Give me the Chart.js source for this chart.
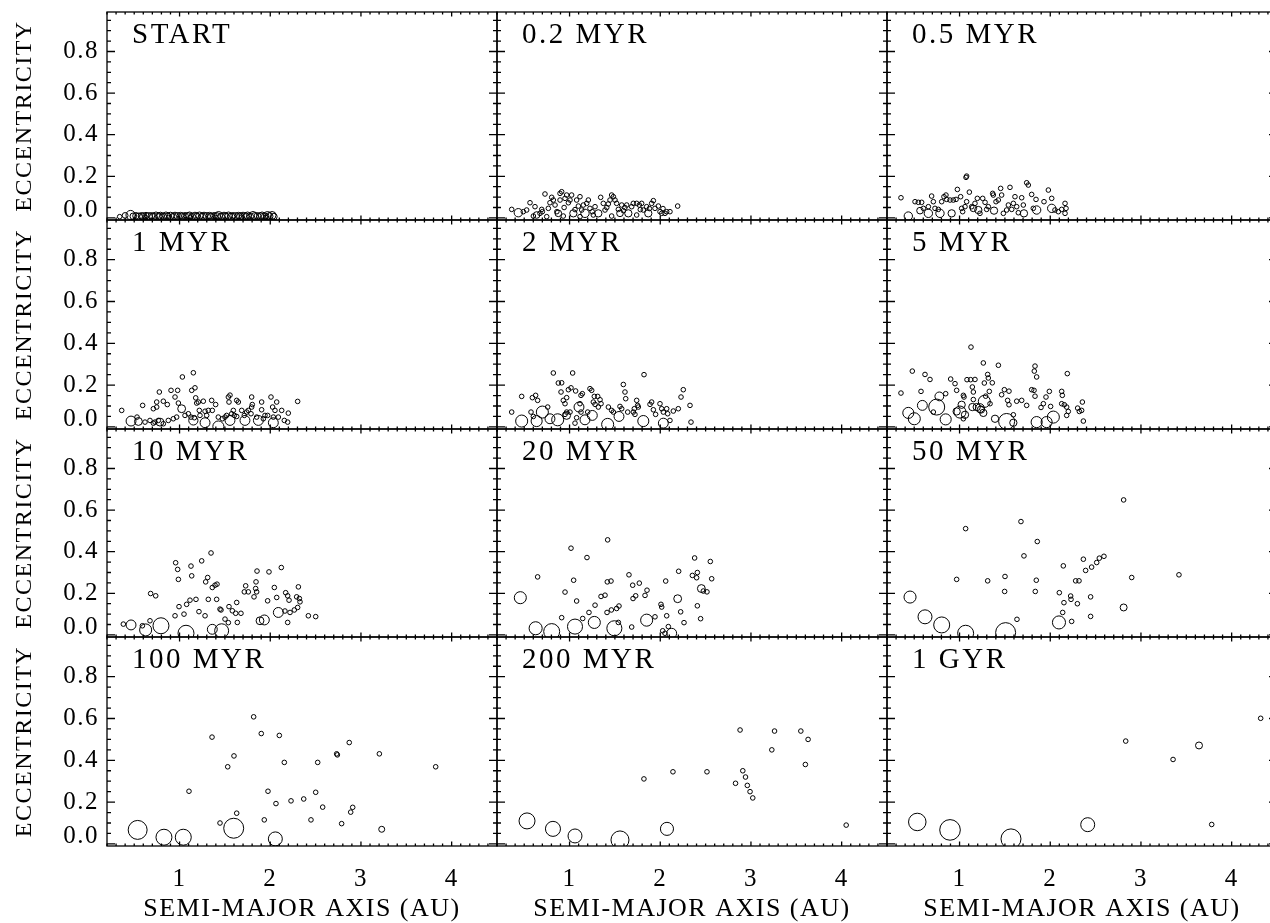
<!DOCTYPE html>
<html>
<head>
<meta charset="utf-8">
<title>Eccentricity vs semi-major axis</title>
<script src="https://cdn.jsdelivr.net/npm/chart.js@4.4.1/dist/chart.umd.min.js"></script>
<style>
  html, body { margin: 0; padding: 0; background: #fff; overflow: hidden; width: 1270px; height: 923px; }
  canvas { position: absolute; }
</style>
</head>
<body>
<script>
// ---- axis setup ----
const X_RANGE = [0.2, 4.5];
const Y_RANGE = [-0.01, 0.99];
const X_TICKS = [1, 2, 3, 4];
const Y_TICKS = [0, 0.2, 0.4, 0.6, 0.8];
const X_TITLE = 'SEMI-MAJOR AXIS (AU)';
const Y_TITLE = 'ECCENTRICITY';
const PANEL_LABELS = ['START', '0.2 MYR', '0.5 MYR', '1 MYR', '2 MYR', '5 MYR',
                      '10 MYR', '20 MYR', '50 MYR', '100 MYR', '200 MYR', '1 GYR'];

// ---- bodies per snapshot: [semi-major axis (AU), eccentricity, relative mass] ----
const P_START = [
  [0.34,0.006,1],[0.40,0.012,2],[0.46,0.014,8],[0.49,0.008,3],[0.52,0.010,3],[0.55,0.006,4],[0.58,0.010,3],
  [0.60,0.007,4],[0.63,0.011,3],[0.66,0.008,4],[0.69,0.010,3],[0.71,0.006,4],[0.74,0.011,4],[0.77,0.008,3],
  [0.79,0.010,4],[0.82,0.007,3],[0.85,0.011,4],[0.87,0.008,3],[0.90,0.010,4],[0.93,0.006,3],[0.95,0.010,4],
  [0.98,0.008,4],[1.01,0.011,3],[1.03,0.007,4],[1.06,0.010,3],[1.09,0.008,4],[1.11,0.011,4],[1.14,0.006,3],
  [1.17,0.010,4],[1.19,0.008,3],[1.22,0.011,4],[1.25,0.007,3],[1.27,0.010,4],[1.30,0.008,4],[1.33,0.011,3],
  [1.35,0.006,4],[1.38,0.010,3],[1.41,0.008,4],[1.43,0.012,5],[1.46,0.007,3],[1.49,0.010,4],[1.51,0.008,3],
  [1.54,0.011,4],[1.57,0.006,4],[1.59,0.010,3],[1.62,0.008,4],[1.65,0.011,3],[1.67,0.007,4],[1.70,0.010,4],
  [1.73,0.008,3],[1.75,0.011,4],[1.78,0.006,3],[1.81,0.012,5],[1.83,0.008,4],[1.86,0.010,3],[1.89,0.007,4],
  [1.91,0.011,4],[1.94,0.008,3],[1.97,0.012,5],[1.99,0.008,4],[2.02,0.012,5],[2.04,0.006,3],
  [0.62,0.003,1],[0.88,0.002,1],[1.12,0.003,1],[1.40,0.002,1],[1.68,0.003,1],[1.95,0.002,1]
];
const P_0_2MYR = [
  [0.362,0.041,1],[0.435,0.025,6],[0.490,0.030,1],[0.527,0.038,1],[0.564,0.073,1],[0.619,0.054,1],[0.637,0.014,3],
  [0.674,0.022,1],[0.693,0.041,1],[0.729,0.115,1],[0.766,0.046,1],[0.784,0.073,1],[0.803,0.099,1],[0.821,0.086,1],
  [0.840,0.062,1],[0.876,0.022,3],[0.895,0.118,1],[0.913,0.126,1],[0.895,0.086,1],[0.950,0.094,1],[0.968,0.110,1],
  [0.987,0.073,1],[1.005,0.086,1],[1.023,0.110,1],[1.042,0.022,4],[1.078,0.086,1],[1.097,0.057,1],[1.115,0.102,1],
  [1.134,0.038,1],[1.152,0.062,1],[1.170,0.022,6],[1.189,0.070,1],[1.207,0.086,1],[1.225,0.046,1],[1.262,0.014,1],
  [1.281,0.054,1],[1.317,0.022,4],[1.343,0.099,1],[1.372,0.070,1],[1.391,0.038,1],[1.427,0.067,1],[1.446,0.086,1],
  [1.464,0.110,1],[1.483,0.102,1],[1.501,0.086,1],[1.519,0.070,1],[1.538,0.041,1],[1.556,0.022,3],[1.575,0.062,1],
  [1.593,0.035,1],[1.630,0.062,1],[1.648,0.022,4],[1.685,0.054,1],[1.703,0.070,1],[1.740,0.070,1],[1.769,0.062,1],
  [1.795,0.070,1],[1.813,0.038,1],[1.850,0.054,1],[1.868,0.022,4],[1.905,0.070,1],[1.924,0.083,1],[1.942,0.046,1],
  [1.979,0.057,1],[1.997,0.030,1],[2.016,0.022,1],[2.052,0.022,1],[2.071,0.030,1],[2.107,0.030,1],[2.192,0.057,1],
  [0.601,0.009,1],[0.748,0.006,1],[0.931,0.009,1],[1.115,0.006,1],[1.464,0.009,1],[1.740,0.014,1],
  [0.700,0.030,1],[0.860,0.030,1],[0.940,0.050,1],[1.060,0.040,1],[1.250,0.030,1],[1.410,0.050,1],[1.610,0.050,1],
  [1.780,0.040,1],[1.880,0.045,1],[2.030,0.045,1]
];
const P_0_5MYR = [
  [0.354,0.097,1],[0.435,0.009,6],[0.509,0.078,1],[0.545,0.075,1],[0.564,0.035,3],[0.582,0.075,1],[0.601,0.046,1],
  [0.656,0.054,1],[0.656,0.022,6],[0.692,0.105,1],[0.711,0.078,1],[0.729,0.046,1],[0.766,0.041,1],[0.784,0.022,6],
  [0.803,0.078,1],[0.828,0.102,1],[0.850,0.110,1],[0.858,0.089,1],[0.895,0.086,1],[0.913,0.022,4],[0.931,0.086,1],
  [0.961,0.089,1],[0.976,0.137,1],[1.012,0.102,1],[1.023,0.046,1],[1.034,0.030,1],[1.060,0.054,1],[1.078,0.078,1],
  [1.071,0.195,1],[1.078,0.201,1],[1.108,0.124,1],[1.134,0.054,1],[1.152,0.046,3],[1.170,0.070,1],[1.196,0.094,1],
  [1.207,0.038,4],[1.225,0.022,1],[1.255,0.094,1],[1.281,0.075,1],[1.299,0.041,1],[1.317,0.054,1],[1.365,0.118,1],
  [1.372,0.110,1],[1.380,0.035,4],[1.402,0.078,1],[1.427,0.086,1],[1.453,0.142,1],[1.464,0.110,1],[1.483,0.022,1],
  [1.519,0.038,1],[1.538,0.062,1],[1.556,0.147,1],[1.575,0.041,1],[1.593,0.070,1],[1.611,0.102,1],[1.630,0.054,1],
  [1.648,0.025,1],[1.685,0.097,1],[1.703,0.062,1],[1.710,0.022,4],[1.740,0.169,1],[1.758,0.158,1],[1.795,0.113,1],
  [1.813,0.046,1],[1.843,0.089,1],[1.850,0.038,6],[1.931,0.078,1],[1.979,0.134,1],[2.016,0.094,1],[2.016,0.046,6],
  [2.052,0.038,1],[2.089,0.030,1],[2.126,0.041,1],[2.163,0.070,1],[2.163,0.022,1],[2.174,0.046,1]
];
const P_1MYR = [
  [0.362,0.079,1],[0.531,0.047,1],[0.593,0.103,1],[0.711,0.087,1],[0.748,0.119,1],[0.777,0.167,1],[0.748,0.095,1],
  [0.821,0.123,1],[0.865,0.107,1],[0.906,0.175,1],[0.950,0.143,1],[0.979,0.175,1],[0.987,0.114,1],[1.031,0.239,1],
  [1.152,0.259,1],[1.170,0.187,1],[1.134,0.175,1],[1.178,0.139,1],[1.189,0.114,1],[1.207,0.119,1],[1.262,0.123,1],
  [1.218,0.079,1],[1.281,0.075,1],[1.317,0.079,1],[1.354,0.127,1],[1.361,0.079,1],[1.398,0.107,1],[1.472,0.039,1],
  [1.519,0.055,1],[1.538,0.143,1],[1.556,0.152,1],[1.545,0.119,1],[1.630,0.127,1],[1.593,0.079,1],[1.604,0.055,1],
  [1.648,0.119,1],[1.685,0.079,1],[1.714,0.055,1],[1.758,0.079,1],[1.795,0.143,1],[1.795,0.095,1],[1.802,0.107,1],
  [1.788,0.063,1],[1.905,0.119,1],[1.905,0.082,1],[1.942,0.055,1],[1.971,0.055,1],[2.008,0.143,1],[2.026,0.095,1],
  [2.052,0.079,1],[2.071,0.119,1],[2.034,0.047,1],[2.126,0.079,1],[2.199,0.066,1],[2.192,0.023,1],[2.302,0.122,1],
  [0.619,0.023,1],[0.674,0.031,1],[0.711,0.018,1],[0.729,0.023,1],[0.766,0.031,1],[0.821,0.015,1],[0.876,0.031,1],
  [0.931,0.039,1],[0.968,0.047,1],[1.060,0.055,1],[1.097,0.063,1],[1.126,0.047,1],[1.163,0.044,1],[1.225,0.055,1],
  [1.299,0.055,1],[1.427,0.047,1],[1.501,0.047,1],[1.575,0.063,1],[1.630,0.050,1],[1.740,0.071,1],[1.850,0.047,1],
  [1.924,0.039,1],[2.089,0.047,1],[2.155,0.031,1],
  [0.465,0.028,10],[0.546,0.026,5],[0.784,0.023,5],[1.023,0.087,5],[1.152,0.031,8],[1.281,0.020,10],[1.428,0.002,14],
  [1.556,0.031,10],[1.721,0.031,10],[1.869,0.031,10],[2.034,0.020,10]
];
const P_2MYR = [
  [0.362,0.071,1],[0.472,0.146,1],[0.575,0.071,1],[0.590,0.140,1],[0.626,0.151,1],[0.648,0.127,1],[0.601,0.050,1],
  [0.759,0.095,1],[0.821,0.258,1],[0.876,0.210,1],[0.913,0.211,1],[0.906,0.167,1],[0.931,0.127,1],[0.968,0.140,1],
  [0.950,0.111,1],[0.987,0.178,1],[1.016,0.187,1],[1.034,0.258,1],[0.968,0.071,1],[1.005,0.071,1],[0.950,0.060,1],
  [1.060,0.018,1],[1.067,0.172,1],[1.078,0.044,1],[1.126,0.151,1],[1.141,0.159,1],[1.115,0.111,1],[1.126,0.071,1],
  [1.200,0.071,1],[1.225,0.183,1],[1.244,0.175,1],[1.262,0.119,1],[1.273,0.146,1],[1.281,0.108,1],[1.310,0.146,1],
  [1.336,0.130,1],[1.347,0.111,1],[1.317,0.095,1],[1.428,0.095,1],[1.464,0.079,1],[1.483,0.071,1],[1.556,0.098,1],
  [1.575,0.087,1],[1.593,0.203,1],[1.611,0.167,1],[1.619,0.135,1],[1.641,0.071,1],[1.703,0.071,1],[1.714,0.087,1],
  [1.740,0.127,1],[1.751,0.103,1],[1.721,0.060,1],[1.758,0.095,1],[1.821,0.250,1],[1.887,0.108,1],[1.905,0.119,1],
  [1.924,0.082,1],[1.949,0.060,1],[1.997,0.111,1],[2.016,0.087,1],[2.034,0.071,1],[2.071,0.087,1],[2.082,0.063,1],
  [2.107,0.031,1],[2.144,0.076,1],[2.199,0.087,1],[2.229,0.143,1],[2.254,0.178,1],[2.328,0.103,1],[2.339,0.023,1],
  [0.472,0.028,18],[0.637,0.028,14],[0.700,0.071,18],[0.784,0.039,10],[0.869,0.034,18],[0.968,0.055,5],
  [1.104,0.095,10],[1.170,0.034,10],[1.251,0.055,10],[1.420,0.012,18],[1.545,0.050,10],[1.813,0.028,14],[2.034,0.018,10]
];
const P_5MYR = [
  [0.354,0.162,1],[0.479,0.267,1],[0.575,0.170,1],[0.619,0.251,1],[0.674,0.227,1],[0.847,0.159,1],[0.902,0.229,1],
  [0.950,0.207,1],[0.968,0.175,1],[1.042,0.151,1],[1.049,0.143,1],[1.082,0.226,1],[1.122,0.226,1],[1.126,0.382,1],
  [1.141,0.191,1],[1.152,0.167,1],[1.170,0.227,1],[1.152,0.131,1],[1.262,0.306,1],[1.273,0.210,1],[1.310,0.251,1],
  [1.317,0.234,1],[1.328,0.170,1],[1.336,0.111,1],[1.361,0.211,1],[1.288,0.147,1],[1.428,0.295,1],[1.464,0.154,1],
  [1.494,0.178,1],[1.545,0.171,1],[1.530,0.127,1],[1.545,0.106,1],[1.593,0.058,1],[1.630,0.123,1],[1.685,0.127,1],
  [1.740,0.103,1],[1.795,0.178,1],[1.821,0.175,1],[1.832,0.291,1],[1.824,0.267,1],[1.850,0.239,1],[1.832,0.147,1],
  [1.898,0.093,1],[1.924,0.111,1],[1.953,0.143,1],[1.990,0.170,1],[2.004,0.098,1],[2.126,0.170,1],[2.133,0.151,1],
  [2.126,0.111,1],[2.155,0.106,1],[2.181,0.095,1],[2.188,0.255,1],[2.199,0.074,1],[2.181,0.055,1],[2.302,0.090,1],
  [2.321,0.074,1],[2.346,0.079,1],[2.354,0.119,1],[2.365,0.028,1],[0.711,0.071,1],[1.042,0.039,1],
  [1.189,0.095,4],[1.236,0.083,4],[1.262,0.067,4],[1.023,0.106,4],[1.060,0.058,4],[1.141,0.095,4],[0.968,0.074,4],
  [1.391,0.039,4],[1.593,0.020,4],
  [0.435,0.067,14],[0.501,0.039,18],[0.590,0.103,10],[0.748,0.095,42],[0.777,0.146,7],[0.847,0.036,14],[1.005,0.071,18],
  [1.273,0.122,18],[1.225,0.090,7],[1.519,0.026,42],[1.850,0.023,14],[1.960,0.023,14],[2.034,0.047,18]
];
const P_10MYR = [
  [0.380,0.052,1],[0.590,0.044,1],[0.674,0.068,1],[0.681,0.199,1],[0.737,0.188,1],[0.950,0.092,1],[0.957,0.347,1],
  [0.979,0.315,1],[0.987,0.267,1],[0.994,0.136,1],[1.049,0.100,1],[1.078,0.147,1],[1.115,0.167,1],[1.126,0.331,1],
  [1.134,0.284,1],[1.181,0.171,1],[1.214,0.112,1],[1.244,0.356,1],[1.281,0.092,1],[1.288,0.255,1],[1.310,0.276,1],
  [1.317,0.171,1],[1.347,0.394,1],[1.361,0.228,1],[1.391,0.239,1],[1.413,0.244,1],[1.409,0.171,1],[1.446,0.124,1],
  [1.457,0.120,1],[1.501,0.076,1],[1.538,0.059,1],[1.545,0.136,1],[1.582,0.116,1],[1.619,0.104,1],[1.630,0.156,1],
  [1.637,0.060,1],[1.677,0.104,1],[1.714,0.207,1],[1.729,0.236,1],[1.758,0.207,1],[1.821,0.183,1],[1.839,0.223,1],
  [1.843,0.255,1],[1.854,0.307,1],[1.850,0.207,1],[1.971,0.164,1],[1.986,0.303,1],[2.045,0.228,1],[2.071,0.180,1],
  [2.122,0.324,1],[2.162,0.115,1],[2.170,0.203,1],[2.192,0.188,1],[2.207,0.167,1],[2.192,0.060,1],[2.218,0.108,1],
  [2.265,0.120,1],[2.291,0.183,1],[2.302,0.132,1],[2.310,0.231,1],[2.321,0.175,1],[2.328,0.159,1],[2.420,0.092,1],
  [2.501,0.088,1],
  [0.465,0.048,10],[0.626,0.024,18],[0.795,0.044,42],[1.071,0.008,42],[1.361,0.027,10],[1.464,0.020,28],
  [1.887,0.068,5],[1.935,0.072,10],[2.089,0.108,10]
];
const P_20MYR = [
  [0.648,0.279,1],[0.913,0.083,1],[0.950,0.206,1],[1.016,0.417,1],[1.045,0.263,1],[1.078,0.163,1],[1.145,0.079,1],
  [1.192,0.372,1],[1.214,0.108,1],[1.281,0.143,1],[1.347,0.185,1],[1.391,0.191,1],[1.413,0.108,1],[1.420,0.457,1],
  [1.416,0.255,1],[1.457,0.259,1],[1.461,0.120,1],[1.519,0.127,1],[1.545,0.139,1],[1.538,0.060,1],[1.655,0.289,1],
  [1.685,0.038,1],[1.696,0.239,1],[1.700,0.175,1],[1.729,0.188,1],[1.769,0.249,1],[1.832,0.190,1],[1.854,0.215,1],
  [1.942,0.087,1],[2.008,0.147,1],[2.016,0.134,1],[2.027,0.020,1],[2.052,0.008,1],[2.060,0.259,1],[2.071,0.092,1],
  [2.089,0.040,1],[2.203,0.306,1],[2.225,0.111,1],[2.262,0.059,1],[2.354,0.286,1],[2.379,0.370,1],[2.401,0.275,1],
  [2.409,0.300,1],[2.409,0.140,1],[2.445,0.078,1],[2.475,0.211,1],[2.515,0.207,1],[2.552,0.353,1],[2.567,0.270,1],
  [0.457,0.179,18],[0.626,0.032,23],[0.803,0.016,42],[1.060,0.040,35],[1.273,0.060,18],[1.494,0.032,35],
  [1.850,0.071,18],[2.126,0.008,10],[2.192,0.174,5],[2.453,0.223,5]
];
const P_50MYR = [
  [0.968,0.267,1],[1.067,0.511,1],[1.310,0.260,1],[1.497,0.209,1],[1.501,0.281,1],[1.633,0.075,1],[1.677,0.545,1],
  [1.710,0.380,1],[1.835,0.209,1],[1.846,0.263,1],[1.857,0.449,1],[2.100,0.203,1],[2.137,0.108,1],[2.144,0.332,1],
  [2.151,0.155,1],[2.225,0.187,1],[2.229,0.171,1],[2.236,0.065,1],[2.280,0.260,1],[2.317,0.260,1],[2.299,0.150,1],
  [2.365,0.364,1],[2.390,0.310,1],[2.445,0.183,1],[2.445,0.089,1],[2.456,0.326,1],[2.512,0.348,1],[2.541,0.369,1],
  [2.592,0.378,1],[2.809,0.649,1],[2.898,0.276,1],[3.419,0.289,1],
  [0.454,0.182,18],[0.619,0.087,28],[0.803,0.048,42],[1.067,0.008,42],[1.508,0.011,82],[2.096,0.060,23],[2.809,0.132,3.5]
];
const P_100MYR = [
  [0.538,0.067,70],[0.828,0.032,42],[1.041,0.032,42],[1.104,0.252,1],[1.358,0.511,1],[1.446,0.100,1],[1.531,0.369,1],
  [1.597,0.075,82],[1.600,0.421,1],[1.630,0.147,1],[1.817,0.608,1],[1.901,0.528,1],[1.934,0.115,1],[1.975,0.252,1],
  [2.056,0.024,28],[2.063,0.193,1],[2.100,0.519,1],[2.155,0.390,1],[2.229,0.206,1],[2.369,0.215,1],[2.449,0.115,1],
  [2.501,0.247,1],[2.523,0.390,1],[2.578,0.176,1],[2.732,0.431,1],[2.740,0.426,1],[2.787,0.097,1],[2.871,0.485,1],
  [2.887,0.152,1],[2.909,0.175,1],[3.203,0.431,1],[3.229,0.070,2.2],[3.824,0.369,1]
];
const P_200MYR = [
  [0.531,0.110,42],[0.817,0.072,35],[1.060,0.038,28],[1.556,0.019,60],[2.074,0.072,23],
  [1.820,0.311,1],[2.140,0.345,1],[2.515,0.345,1],[2.830,0.290,1],[2.880,0.545,1],[2.910,0.350,1],[2.940,0.320,1],
  [2.960,0.280,1],[2.990,0.250,1],[3.020,0.220,1],[3.230,0.450,1],[3.260,0.540,1],[3.550,0.540,1],[3.630,0.500,1],
  [3.600,0.380,1],[4.050,0.090,1]
];
const P_1GYR = [
  [0.534,0.105,55],[0.895,0.067,90],[1.567,0.024,82],[2.413,0.092,28],[2.832,0.492,1],[3.354,0.404,1],
  [3.640,0.471,3.5],[3.780,0.093,1],[4.320,0.601,1]
];
const PANELS = [P_START, P_0_2MYR, P_0_5MYR, P_1MYR, P_2MYR, P_5MYR,
                P_10MYR, P_20MYR, P_50MYR, P_100MYR, P_200MYR, P_1GYR];

// ---- page geometry of the plot boxes ----
const COL_LEFT = [107, 497, 887];
const COL_W = 390;
const ROW_TOP = [12, 220, 429, 637];
const ROW_H = [208, 209, 208, 209];
const PAGE_H = 923;
const FONT = "'Liberation Serif', 'Times New Roman', serif";

// circle radius grows with the cube root of mass
const radiusOf = m => 2.3 * Math.cbrt(m);

// slightly open lettering for every label on the canvas
const letterSpacing = {
  id: 'letterSpacing',
  beforeDraw(chart) { chart.ctx.letterSpacing = '1.5px'; }
};

// frame plus inward-pointing ticks on all four sides
const axisFrame = {
  id: 'axisFrame',
  afterDraw(chart) {
    const {ctx, chartArea: a, scales: {x, y}} = chart;
    ctx.save();
    ctx.strokeStyle = '#000';
    ctx.lineWidth = 1.3;
    ctx.strokeRect(a.left, a.top, a.right - a.left, a.bottom - a.top);
    ctx.beginPath();
    for (let k = Math.round(X_RANGE[0] * 10); k <= Math.round(X_RANGE[1] * 10); k++) {
      const px = x.getPixelForValue(k / 10);
      const len = k % 10 === 0 ? 4.5 : 2.5;
      ctx.moveTo(px, a.bottom); ctx.lineTo(px, a.bottom - len);
      ctx.moveTo(px, a.top); ctx.lineTo(px, a.top + len);
    }
    for (let k = 0; k * 0.05 <= Y_RANGE[1]; k++) {
      const py = y.getPixelForValue(k * 0.05);
      const len = k % 4 === 0 ? 8 : 4;
      ctx.moveTo(a.left, py); ctx.lineTo(a.left + len, py);
      ctx.moveTo(a.right, py); ctx.lineTo(a.right - len, py);
    }
    ctx.stroke();
    ctx.restore();
  }
};

// snapshot time written in the upper-left corner of each panel
const panelLabel = {
  id: 'panelLabel',
  afterDraw(chart, args, opts) {
    const {ctx, chartArea: a} = chart;
    ctx.save();
    ctx.font = `29px ${FONT}`;
    ctx.letterSpacing = '2.5px';
    ctx.fillStyle = '#000';
    ctx.textAlign = 'left';
    ctx.textBaseline = 'alphabetic';
    ctx.fillText(opts.text, a.left + 25, a.top + 31);
    ctx.restore();
  }
};

PANELS.forEach((pts, i) => {
  const r = Math.floor(i / 3), c = i % 3;
  const firstCol = c === 0, lastRow = r === 3;
  const left = firstCol ? 0 : COL_LEFT[c] - 12;
  const top = ROW_TOP[r] - 12;
  const width = (COL_LEFT[c] - left) + COL_W + 12;
  const bottomSpace = lastRow ? PAGE_H - (ROW_TOP[r] + ROW_H[r]) : 12;
  const height = 12 + ROW_H[r] + bottomSpace;

  const cv = document.createElement('canvas');
  cv.width = width; cv.height = height;
  cv.style.left = left + 'px'; cv.style.top = top + 'px';
  cv.style.width = width + 'px'; cv.style.height = height + 'px';
  document.body.appendChild(cv);

  new Chart(cv, {
    type: 'scatter',
    data: {
      datasets: [{
        data: pts.map(p => ({x: p[0], y: p[1]})),
        pointRadius: pts.map(p => radiusOf(p[2])),
        pointStyle: 'circle',
        pointBorderWidth: 1,
        pointBorderColor: '#000',
        pointBackgroundColor: 'rgba(0,0,0,0)',
        clip: 0
      }]
    },
    options: {
      responsive: false,
      animation: false,
      events: [],
      layout: {padding: {top: 12, right: 12, left: firstCol ? 0 : 12, bottom: lastRow ? 0 : 12}},
      plugins: {
        legend: {display: false},
        tooltip: {enabled: false},
        panelLabel: {text: PANEL_LABELS[i]}
      },
      scales: {
        x: {
          type: 'linear',
          position: 'bottom',
          min: X_RANGE[0], max: X_RANGE[1],
          display: lastRow,
          grid: {display: false, drawTicks: false},
          border: {display: false},
          afterBuildTicks: s => { s.ticks = X_TICKS.map(v => ({value: v})); },
          afterFit: s => { s.height = lastRow ? bottomSpace : 0; s.paddingLeft = 0; s.paddingRight = 0; },
          ticks: {
            padding: 18, color: '#000', maxRotation: 0, autoSkip: false,
            font: {family: FONT, size: 25},
            callback: v => String(v)
          },
          title: {
            display: true, text: X_TITLE, color: '#000',
            font: {family: FONT, size: 26, lineHeight: 1},
            padding: {top: 0, bottom: 1}
          }
        },
        y: {
          type: 'linear',
          position: 'left',
          min: Y_RANGE[0], max: Y_RANGE[1],
          display: firstCol,
          grid: {display: false, drawTicks: false},
          border: {display: false},
          afterBuildTicks: s => { s.ticks = Y_TICKS.map(v => ({value: v})); },
          afterFit: s => { s.width = firstCol ? COL_LEFT[0] : 0; s.paddingTop = 0; s.paddingBottom = 0; },
          ticks: {
            padding: 8, color: '#000', autoSkip: false,
            font: {family: FONT, size: 25, lineHeight: 0.6},
            // the zero label sits a little above its tick
            callback: v => (v === 0 ? ['0.0', ''] : v.toFixed(1))
          },
          title: {
            display: true, text: Y_TITLE, color: '#000',
            font: {family: FONT, size: 24, lineHeight: 1},
            padding: {top: 13, bottom: 0}
          }
        }
      }
    },
    plugins: [letterSpacing, axisFrame, panelLabel]
  });
});
</script>
</body>
</html>
